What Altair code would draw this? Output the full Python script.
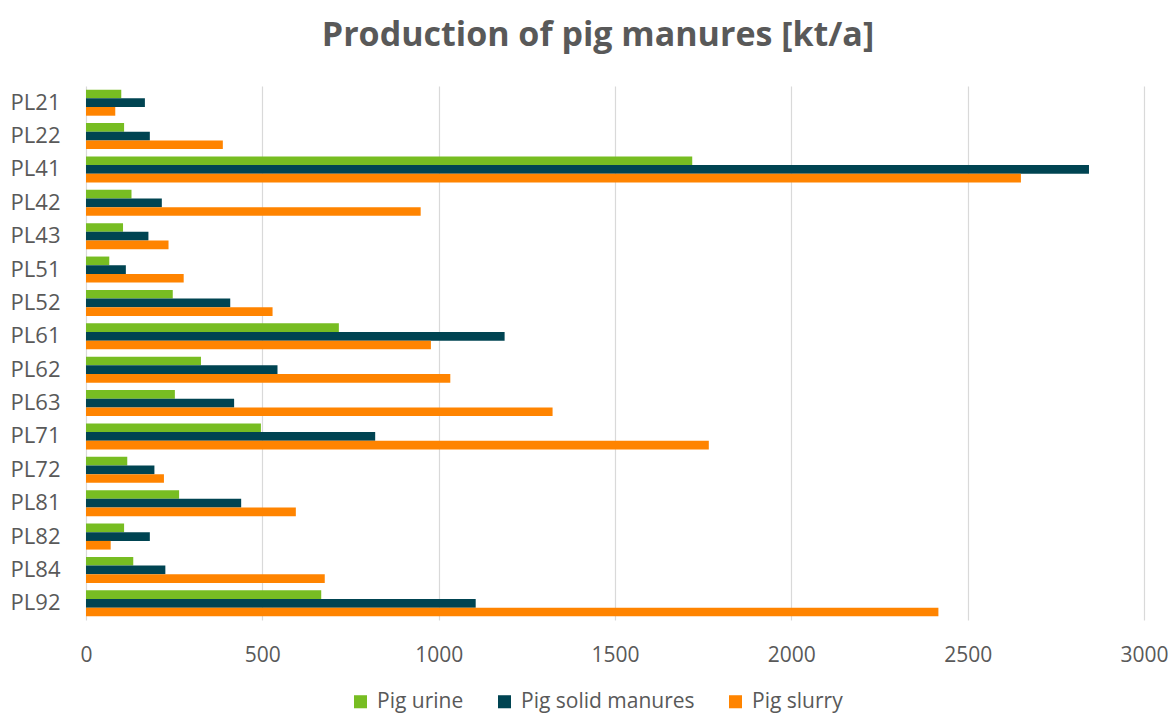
import altair as alt
import pandas as pd

regions = ["PL21", "PL22", "PL41", "PL42", "PL43", "PL51", "PL52", "PL61",
           "PL62", "PL63", "PL71", "PL72", "PL81", "PL82", "PL84", "PL92"]
series = ["Pig urine", "Pig solid manures", "Pig slurry"]
pig_urine = [100, 108, 1719, 129, 105, 66, 246, 717, 326, 252, 496, 117, 264, 108, 134, 667]
pig_solid = [167, 181, 2844, 215, 177, 113, 409, 1187, 543, 420, 820, 194, 440, 181, 225, 1105]
pig_slurry = [83, 388, 2651, 949, 234, 277, 529, 978, 1033, 1323, 1766, 221, 595, 70, 677, 2417]
colors = ["#77BD22", "#004452", "#FF8400"]

rows = []
for name, vals in zip(series, [pig_urine, pig_solid, pig_slurry]):
    for r, v in zip(regions, vals):
        rows.append({"region": r, "series": name, "value": v})
df = pd.DataFrame(rows)

font = "Open Sans"
gray = "#595959"

chart = alt.Chart(df).mark_bar().encode(
    y=alt.Y("region:N", sort=regions, title=None,
            scale=alt.Scale(paddingInner=0.22, paddingOuter=0.11),
            axis=alt.Axis(labelFont=font, labelFontSize=22, labelColor=gray,
                          labelPadding=26, ticks=False, domain=False)),
    yOffset=alt.YOffset("series:N", sort=series),
    x=alt.X("value:Q", title=None,
            scale=alt.Scale(domain=[0, 3000], nice=False),
            axis=alt.Axis(values=[0, 500, 1000, 1500, 2000, 2500, 3000], format="d",
                          labelFont=font, labelFontSize=21, labelColor=gray,
                          labelFlush=False, labelOverlap=False,
                          labelPadding=24, ticks=False, domain=False,
                          gridColor="#D9D9D9", gridWidth=1.2)),
    color=alt.Color("series:N", sort=series,
                    scale=alt.Scale(domain=series, range=colors),
                    legend=alt.Legend(title=None, orient="none", direction="horizontal",
                                      legendX=264, legendY=605,
                                      labelFont=font, labelFontSize=21, labelColor=gray,
                                      labelLimit=0,
                                      symbolType="square", symbolSize=170,
                                      symbolStrokeWidth=0, columnPadding=30,
                                      labelOffset=6)),
).properties(
    width=1058,
    height=534,
    title=alt.TitleParams("Production of pig manures [kt/a]", font=font, fontSize=34,
                          fontWeight="bold", color=gray, anchor="middle",
                          frame="group", dx=-17, offset=33),
    padding={"left": 78, "top": 78, "right": 24, "bottom": 100},
    autosize=alt.AutoSizeParams(type="none"),
).configure_view(stroke=None)

chart.save("out.html", embed_options={"renderer": "svg", "actions": False})
